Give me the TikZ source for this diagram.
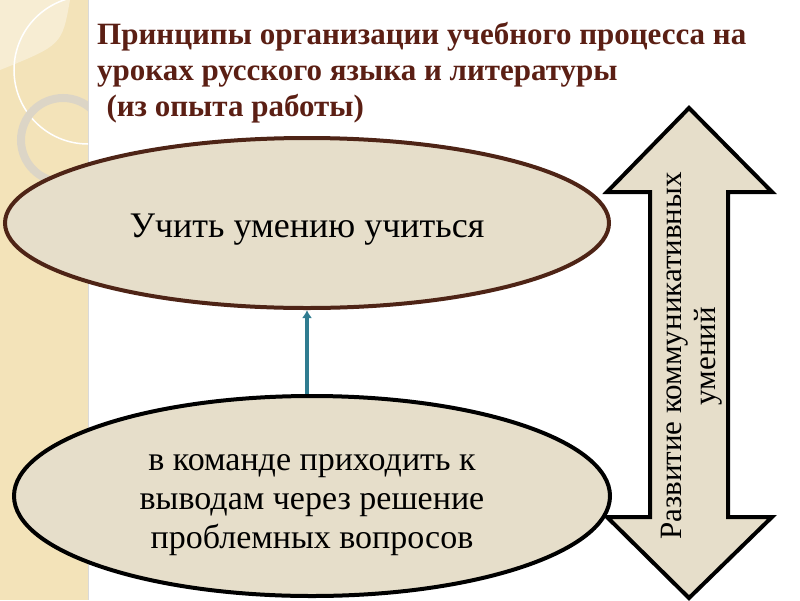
\documentclass[tikz,border=0pt]{standalone}
\usepackage{fontspec}
\setmainfont{Liberation Serif}
\usetikzlibrary{arrows.meta, positioning, shapes.geometric}

\definecolor{panelbeige}{HTML}{F3E3B9}
\definecolor{panellight}{HTML}{F7EDD3}
\definecolor{ringgray}{HTML}{DCD5C6}
\definecolor{shapefill}{HTML}{E6DECA}
\definecolor{titlebrown}{HTML}{5B1F14}
\definecolor{rimbrown}{HTML}{4E2416}
\definecolor{linkteal}{HTML}{2F7C90}

\begin{document}
\begin{tikzpicture}[x=1pt, y=-1pt, >={Latex[length=8pt, width=10pt]},
    bubble/.style={draw, ellipse, line width=4pt, fill=shapefill, align=center,
        font=\fontsize{34}{39}\selectfont},
    title/.style={anchor=north west, align=left, inner sep=0pt, text=titlebrown,
        font=\bfseries\fontsize{31}{36}\selectfont}]
  \useasboundingbox (0,0) rectangle (800,600);
  % left strip
  \fill[panelbeige] (0,0) rectangle (88,600);
  \draw[black!15, line width=1pt] (88,0) -- (88,600);
  \begin{scope}
    \clip (0,0) rectangle (88,600);
    \fill[panellight] (0,0) -- (70,0) .. controls (62,45) .. (0,70) -- cycle;
    \draw[white, line width=1.5pt] (88,70) circle (74);
    \draw[ringgray, line width=8pt] (63,140) circle (42);
  \end{scope}

  \node[title] (head) at (97,22) {Принципы организации учебного процесса на\\
    уроках русского языка и литературы\\
    \hspace*{0.3em}(из опыта работы)};

  \node[bubble, draw=rimbrown, minimum width=604pt, minimum height=170pt,
    font=\fontsize{36}{40}\selectfont, text height=28pt, text depth=0pt] (learn) at (307,223)
    {Учить умению учиться};
  \node[bubble, minimum width=596pt, minimum height=200pt] (team) at (312,496)
    {\rule{0pt}{34pt}в команде приходить к\\выводам через решение\\проблемных вопросов};

  \draw[->, linkteal, line width=4.5pt] (learn.south |- team.north) -- (learn.south);

  % double arrow on the right
  \draw[line width=4pt, fill=shapefill, miter limit=4]
    (689,108) -- (772,192) -- (728,192) -- (728,517) -- (772,517) -- (689,598)
    -- (607,517) -- (650,517) -- (650,192) -- (607,192) -- cycle;
  \node[rotate=90, align=center, font=\fontsize{31}{34}\selectfont] (skills) at (692,356)
    {Развитие коммуникативных\\умений};
\end{tikzpicture}
\end{document}
